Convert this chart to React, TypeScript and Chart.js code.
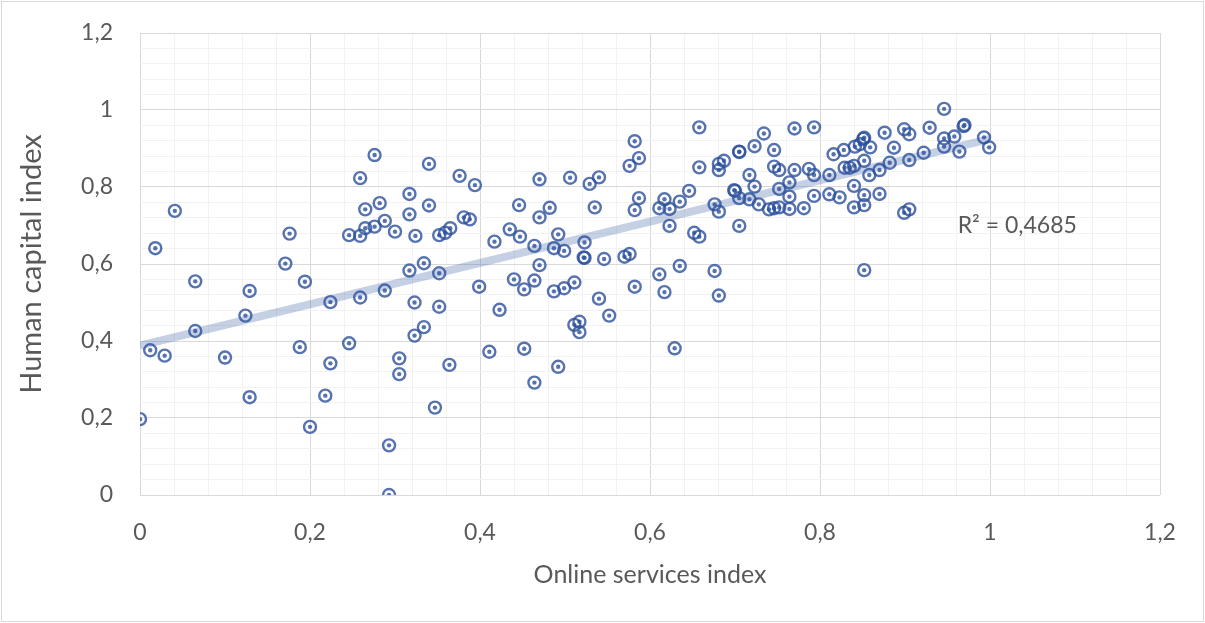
import React, { useEffect, useRef } from "react";
import { Chart, registerables } from "chart.js";

Chart.register(...registerables);

// Online services index (x) and human capital index (y), one entry per country
const onlineServices = [
  0.000, 0.012, 0.018, 0.029, 0.041, 0.065, 0.065, 0.100, 0.124, 0.129,
  0.129, 0.171, 0.176, 0.188, 0.194, 0.200, 0.224, 0.224, 0.218, 0.246,
  0.246, 0.276, 0.340, 0.259, 0.376, 0.394, 0.470, 0.317, 0.265, 0.282,
  0.317, 0.340, 0.381, 0.388, 0.446, 0.470, 0.482, 0.259, 0.265, 0.276,
  0.288, 0.300, 0.324, 0.352, 0.359, 0.365, 0.417, 0.435, 0.447, 0.464,
  0.470, 0.487, 0.492, 0.317, 0.334, 0.352, 0.399, 0.440, 0.452, 0.464,
  0.487, 0.259, 0.288, 0.323, 0.352, 0.423, 0.334, 0.323, 0.305, 0.305,
  0.364, 0.411, 0.452, 0.464, 0.492, 0.347, 0.293, 0.293, 0.658, 0.582,
  0.576, 0.587, 0.506, 0.529, 0.540, 0.658, 0.681, 0.681, 0.687, 0.705,
  0.705, 0.723, 0.734, 0.535, 0.587, 0.582, 0.617, 0.611, 0.623, 0.635,
  0.646, 0.623, 0.676, 0.681, 0.699, 0.700, 0.705, 0.717, 0.723, 0.717,
  0.728, 0.705, 0.652, 0.658, 0.499, 0.523, 0.523, 0.522, 0.546, 0.570,
  0.576, 0.611, 0.635, 0.676, 0.499, 0.511, 0.540, 0.582, 0.617, 0.681,
  0.552, 0.511, 0.517, 0.517, 0.629, 0.946, 0.970, 0.969, 0.929, 0.899,
  0.905, 0.876, 0.852, 0.851, 0.770, 0.793, 0.958, 0.946, 0.946, 0.993,
  0.999, 0.964, 0.887, 0.922, 0.905, 0.882, 0.870, 0.858, 0.852, 0.816,
  0.828, 0.841, 0.847, 0.746, 0.746, 0.752, 0.770, 0.787, 0.793, 0.811,
  0.829, 0.835, 0.840, 0.764, 0.752, 0.764, 0.793, 0.811, 0.823, 0.840,
  0.852, 0.870, 0.746, 0.752, 0.764, 0.781, 0.840, 0.852, 0.899, 0.905,
  0.852, 0.859, 0.740,
];

const humanCapital = [
  0.197, 0.376, 0.641, 0.362, 0.738, 0.555, 0.426, 0.357, 0.466, 0.530,
  0.254, 0.601, 0.679, 0.384, 0.554, 0.177, 0.501, 0.342, 0.258, 0.394,
  0.675, 0.883, 0.860, 0.823, 0.829, 0.805, 0.820, 0.782, 0.742, 0.758,
  0.729, 0.752, 0.721, 0.716, 0.753, 0.721, 0.746, 0.673, 0.693, 0.697,
  0.712, 0.684, 0.673, 0.675, 0.681, 0.693, 0.658, 0.690, 0.671, 0.647,
  0.597, 0.641, 0.677, 0.583, 0.602, 0.576, 0.541, 0.560, 0.534, 0.557,
  0.529, 0.513, 0.531, 0.500, 0.489, 0.481, 0.436, 0.414, 0.355, 0.314,
  0.338, 0.372, 0.380, 0.292, 0.333, 0.227, 0.129, 0.000, 0.955, 0.919,
  0.855, 0.875, 0.824, 0.808, 0.825, 0.851, 0.860, 0.844, 0.868, 0.892,
  0.891, 0.906, 0.939, 0.747, 0.771, 0.740, 0.768, 0.745, 0.743, 0.762,
  0.790, 0.699, 0.755, 0.736, 0.792, 0.790, 0.771, 0.831, 0.801, 0.768,
  0.755, 0.699, 0.681, 0.671, 0.634, 0.656, 0.616, 0.617, 0.613, 0.619,
  0.626, 0.573, 0.595, 0.582, 0.537, 0.552, 0.510, 0.541, 0.527, 0.518,
  0.466, 0.442, 0.450, 0.423, 0.381, 1.003, 0.961, 0.958, 0.954, 0.950,
  0.937, 0.941, 0.928, 0.925, 0.952, 0.955, 0.931, 0.926, 0.905, 0.929,
  0.903, 0.892, 0.902, 0.889, 0.870, 0.863, 0.844, 0.831, 0.868, 0.885,
  0.896, 0.905, 0.911, 0.896, 0.853, 0.844, 0.844, 0.847, 0.831, 0.831,
  0.850, 0.850, 0.855, 0.812, 0.795, 0.775, 0.777, 0.781, 0.773, 0.803,
  0.779, 0.782, 0.745, 0.747, 0.743, 0.745, 0.747, 0.753, 0.733, 0.742,
  0.584, 0.903, 0.742,
];

const tickLabels = ["0", "0,2", "0,4", "0,6", "0,8", "1", "1,2"];
const xTitle = "Online services index";
const yTitle = "Human capital index";
const rSquaredText = "R² = 0,4685";

const FONT = "Lato, 'Open Sans', sans-serif";
const TEXT = "#595959";
const MARKER = "rgba(44, 80, 156, 0.8)";

const points = onlineServices.map((x, i) => ({ x, y: humanCapital[i] }));

// Least-squares linear trend over the data
function linearFit(xs: number[], ys: number[]) {
  const n = xs.length;
  let sx = 0, sy = 0, sxx = 0, sxy = 0;
  for (let i = 0; i < n; i++) {
    sx += xs[i]; sy += ys[i]; sxx += xs[i] * xs[i]; sxy += xs[i] * ys[i];
  }
  const slope = (n * sxy - sx * sy) / (n * sxx - sx * sx);
  const intercept = (sy - slope * sx) / n;
  return { slope, intercept };
}

const fit = linearFit(onlineServices, humanCapital);
const xMin = Math.min(...onlineServices);
const xMax = Math.max(...onlineServices);
const trend = [
  { x: xMin, y: fit.intercept + fit.slope * xMin },
  { x: xMax, y: fit.intercept + fit.slope * xMax },
];

const isMajor = (v: number) => Math.abs(v / 0.2 - Math.round(v / 0.2)) < 1e-6;
const gridColor = (ctx: any) => (isMajor(ctx.tick.value) ? "#d9d9d9" : "#f2f2f2");
const tickText = (v: number) => (isMajor(v) ? tickLabels[Math.round(v / 0.2)] : "");

// Outer frame and the R² annotation beside the trendline
const extrasPlugin = {
  id: "extras",
  afterDraw(chart: any) {
    const { ctx, width, height, scales } = chart;
    ctx.save();
    ctx.strokeStyle = "#d9d9d9";
    ctx.lineWidth = 1;
    ctx.strokeRect(1.5, 1.5, width - 3, height - 3);
    ctx.fillStyle = TEXT;
    ctx.font = `23px ${FONT}`;
    ctx.textAlign = "left";
    ctx.textBaseline = "middle";
    ctx.fillText(rSquaredText, scales.x.getPixelForValue(0.962), scales.y.getPixelForValue(0.699));
    ctx.restore();
  },
};

export default function App() {
  const canvasRef = useRef<HTMLCanvasElement>(null);

  useEffect(() => {
    let chart: Chart | null = null;
    let cancelled = false;
    const build = () => {
      if (cancelled || !canvasRef.current) return;
      chart = new Chart(canvasRef.current, {
        type: "scatter",
        data: {
          datasets: [
            {
              label: "rings",
              data: points,
              order: 0,
              pointStyle: "circle",
              pointRadius: 6,
              pointBorderWidth: 2.4,
              pointBorderColor: MARKER,
              pointBackgroundColor: "rgba(0,0,0,0)",
              pointHoverRadius: 6,
            },
            {
              label: "dots",
              data: points,
              order: 1,
              pointStyle: "circle",
              pointRadius: 2.2,
              pointBorderWidth: 0,
              pointBackgroundColor: MARKER,
              pointHoverRadius: 2.2,
            },
            {
              label: "trend",
              data: trend,
              order: 2,
              showLine: true,
              borderColor: "rgba(90, 120, 180, 0.35)",
              borderWidth: 8,
              pointRadius: 0,
              pointHoverRadius: 0,
            } as any,
          ],
        },
        options: {
          responsive: false,
          animation: false,
          layout: { padding: { left: 0, top: 33, right: 45, bottom: 0 } },
          plugins: { legend: { display: false }, tooltip: { enabled: false } },
          scales: {
            x: {
              type: "linear",
              min: 0,
              max: 1.2,
              border: { display: false },
              grid: { color: gridColor, lineWidth: 1, drawTicks: false },
              ticks: {
                stepSize: 0.04,
                autoSkip: false,
                maxRotation: 0,
                padding: 24,
                color: TEXT,
                font: { family: FONT, size: 23 },
                callback: (v: any) => tickText(Number(v)),
              },
              title: {
                display: true,
                text: xTitle,
                color: TEXT,
                font: { family: FONT, size: 25 },
                padding: { top: 0, bottom: 33 },
              },
              afterFit: (s: any) => { s.height = 128; },
            },
            y: {
              type: "linear",
              min: 0,
              max: 1.2,
              border: { display: false },
              grid: { color: gridColor, lineWidth: 1, drawTicks: false },
              ticks: {
                stepSize: 0.04,
                autoSkip: false,
                padding: 27,
                color: TEXT,
                font: { family: FONT, size: 23 },
                callback: (v: any) => tickText(Number(v)),
              },
              title: {
                display: true,
                text: yTitle,
                color: TEXT,
                font: { family: FONT, size: 29 },
                padding: { top: 14, bottom: 0 },
              },
              afterFit: (s: any) => {
                s.width = 140;
                s.paddingTop = 0;
                s.paddingBottom = 0;
              },
            },
          },
        },
        plugins: [extrasPlugin],
      });
    };
    const fonts = (document as any).fonts;
    if (fonts && fonts.load) {
      Promise.all([fonts.load(`23px Lato`), fonts.load(`29px Lato`)]).then(build, build);
    } else {
      build();
    }
    return () => {
      cancelled = true;
      if (chart) chart.destroy();
    };
  }, []);

  return (
    <div style={{ position: "fixed", left: 0, top: 0, width: 1205, height: 623, background: "#fff" }}>
      <canvas ref={canvasRef} width={1205} height={623} style={{ display: "block" }} />
    </div>
  );
}
